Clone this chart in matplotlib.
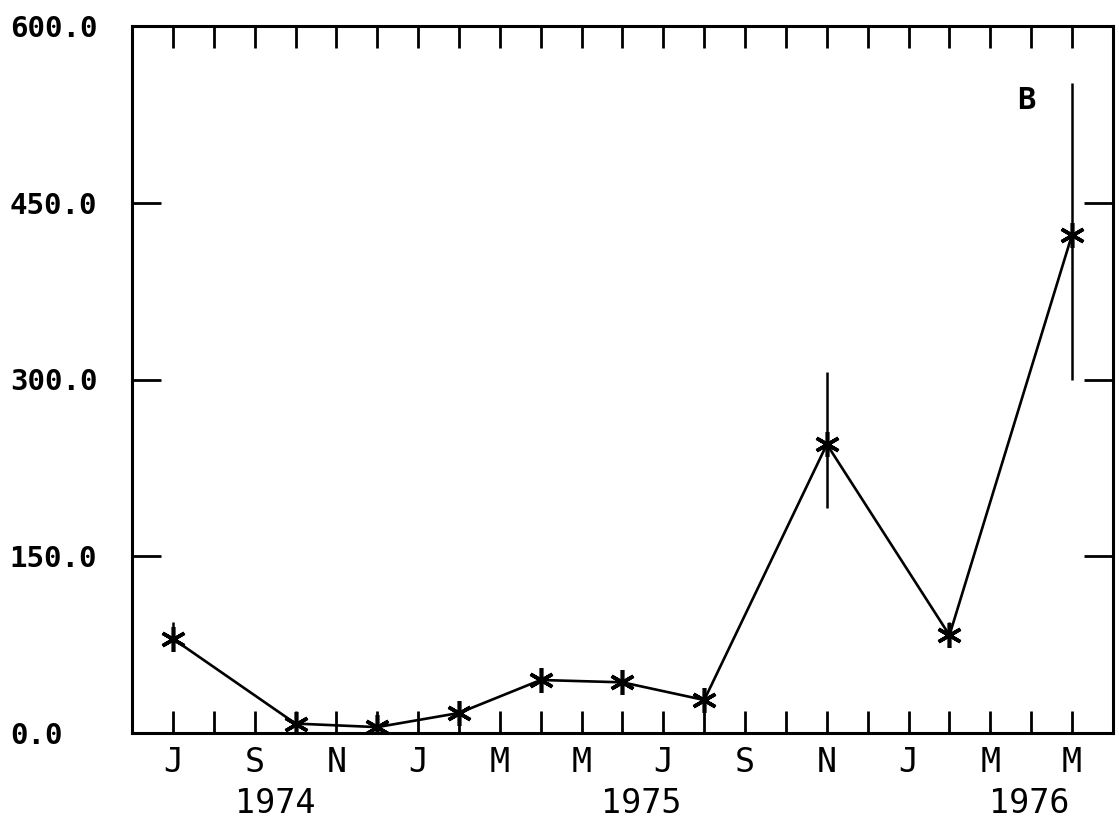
import numpy as np
import matplotlib
matplotlib.use('Agg')
import matplotlib.pyplot as plt

# month index: 0 = Jun 1974
months = [1, 4, 6, 8, 10, 12, 14, 17, 20, 23]
values = [80, 8, 5, 17, 45, 43, 28, 245, 83, 423]
err_lo = [0, 0, 0, 0, 0, 0, 0, 54, 0, 123]
err_hi = [14, 0, 0, 0, 0, 0, 0, 61, 11, 129]

tick_months = list(range(1, 24))
month_labels = ['J', '', 'S', '', 'N', '', 'J', '', 'M', '', 'M', '', 'J', '', 'S', '', 'N', '', 'J', '', 'M', '', 'M']
y_ticks = [0, 150, 300, 450, 600]
y_labels = ['0.0', '150.0', '300.0', '450.0', '600.0']
years = ['1974', '1975', '1976']
year_pos = [3.5, 12.45, 21.95]

fig = plt.figure(figsize=(11.19, 8.25), dpi=100)
ax = fig.add_axes([0.118, 0.1115, 0.8766, 0.857])

ax.errorbar(months, values, yerr=[err_lo, err_hi], fmt='none', ecolor='black', elinewidth=1.8, capsize=0)
ax.plot(months, values, color='black', linewidth=1.9, marker=(6, 2, 0), ms=18, mew=2.6)

ax.set_xlim(0, 24)
ax.set_ylim(0, 600)

for s in ax.spines.values():
    s.set_linewidth(2.2)

ax.set_xticks(tick_months)
ax.set_xticklabels(month_labels, family='DejaVu Sans Mono', fontsize=24)
ax.tick_params(axis='x', direction='in', length=16, width=2, top=True, pad=9)

ax.set_yticks(y_ticks)
ax.set_yticklabels(y_labels, family='DejaVu Sans Mono', fontsize=21, fontweight='bold')
ax.tick_params(axis='y', direction='in', length=21, width=2, right=True, pad=88)
for lab in ax.get_yticklabels():
    lab.set_horizontalalignment('left')

for yr, xp in zip(years, year_pos):
    ax.text(xp, -0.10, yr, transform=ax.get_xaxis_transform(), ha='center', va='center',
            family='DejaVu Sans Mono', fontsize=24)

ax.text(0.912, 0.895, 'B', transform=ax.transAxes, ha='center', va='center',
        family='DejaVu Sans Mono', fontsize=22, fontweight='bold')

plt.savefig('out.png', dpi=100)
